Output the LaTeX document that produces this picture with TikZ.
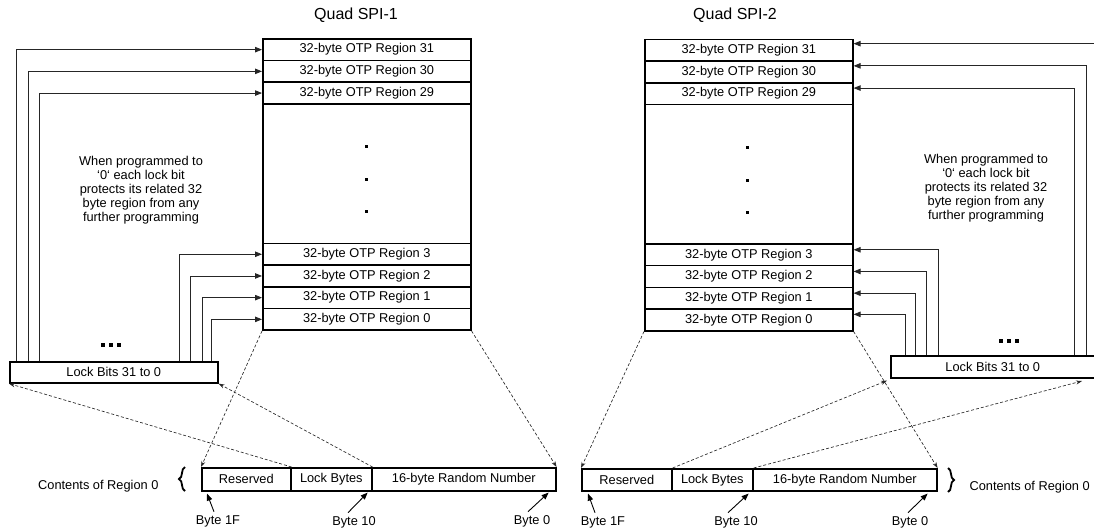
\documentclass[tikz,border=0pt]{standalone}
\usepackage{fontspec}
\setmainfont{Liberation Sans}
\usetikzlibrary{arrows.meta,decorations.pathreplacing,calc}
\begin{document}
\begin{tikzpicture}[x=1pt,y=-1pt,
  font=\fontsize{12.8}{14}\selectfont,
  box/.style={draw, line width=1.6pt, rectangle, inner sep=0pt, anchor=north west},
  row/.style={box, minimum width=208pt, minimum height=21.7pt},
  lk/.style={draw=black!85, line width=0.8pt, -{Triangle[length=7pt,width=5.5pt]}},
  dsh/.style={draw=black!85, line width=0.65pt, dash pattern=on 3pt off 2pt, -{Stealth[length=6pt,width=4pt]}},
  bytearr/.style={draw=black, line width=0.9pt, -{Triangle[length=7pt,width=5.5pt]}},
  dot/.style={fill=black, inner sep=0pt, minimum size=3pt, rectangle},
  brc/.style={decorate, decoration={brace, amplitude=6pt}, line width=1.8pt},
  title/.style={font=\fontsize{16}{18}\selectfont}
]
\clip (0,0) rectangle (1094,531);
\useasboundingbox (0,0) rectangle (1094,531);

% ---------- Left side ----------
\node[title] (T1) at (356,15) {Quad SPI-1};
\node[row] (L31) at (262,38) {32-byte OTP Region 31};
\node[row] (L30) at (262,59.7) {32-byte OTP Region 30};
\node[row] (L29) at (262,81.4) {32-byte OTP Region 29};
\node[row, minimum height=139.5pt] (Ld) at (262,103.1) {};
\node[row] (L3) at (262,242.6) {32-byte OTP Region 3};
\node[row] (L2) at (262,264.3) {32-byte OTP Region 2};
\node[row] (L1) at (262,286) {32-byte OTP Region 1};
\node[row] (L0) at (262,307.7) {32-byte OTP Region 0};
\node[dot] (Ld1) at (366,146) {};
\node[dot] (Ld2) at (366,179) {};
\node[dot] (Ld3) at (366,211) {};

\node[align=center] (Ltxt) at (141,190.5) {When programmed to\\‘0‘ each lock bit\\protects its related 32\\byte region from any\\further programming};

\node[box, minimum width=208pt, minimum height=21pt] (LLB) at (9,361) {Lock Bits 31 to 0};
\node[dot, minimum size=3.2pt] (Le1) at (103,345) {};
\node[dot, minimum size=3.2pt] (Le2) at (111,345) {};
\node[dot, minimum size=3.2pt] (Le3) at (119,345) {};

\draw[lk] ([xshift=7pt]LLB.north west) |- (L31.west);
\draw[lk] ([xshift=19pt]LLB.north west) |- (L30.west);
\draw[lk] ([xshift=30pt]LLB.north west) |- (L29.west);
\draw[lk] ([xshift=-39pt]LLB.north east) |- (L3.west);
\draw[lk] ([xshift=-28pt]LLB.north east) |- (L2.west);
\draw[lk] ([xshift=-16pt]LLB.north east) |- (L1.west);
\draw[lk] ([xshift=-7pt]LLB.north east) |- (L0.west);

\node[box, minimum width=89pt, minimum height=23pt] (LRes) at (201,467) {Reserved};
\node[box, minimum width=81pt, minimum height=23pt] (LLock) at (290,467) {Lock Bytes};
\node[box, minimum width=184pt, minimum height=23pt] (LRand) at (371,467) {16-byte Random Number};
\draw[brc] (185,491) -- (185,467);
\node[anchor=east] (LCont) at (162,486) {Contents of Region 0};

\node (LB1F) at (218,521) {Byte 1F};
\node (LB10) at (354,522) {Byte 10};
\node (LB0) at (532,521) {Byte 0};
\draw[bytearr] ([xshift=-4pt]LB1F.north) -- ([xshift=6pt,yshift=-2pt]LRes.south west);
\draw[bytearr] ([xshift=-6pt]LB10.north) -- ([xshift=-5pt,yshift=-1pt]LLock.south east);
\draw[bytearr] ([xshift=-4pt]LB0.north) -- ([xshift=-8pt,yshift=-1pt]LRand.south east);

\draw[dsh] (L0.south west) -- (LRes.north west);
\draw[dsh] (L0.south east) -- (LRand.north east);
\draw[dsh] (LRes.north east) -- (LLB.south west);
\draw[dsh] (LLock.north east) -- (LLB.south east);

% ---------- Right side ----------
\node[title] (T2) at (735,15) {Quad SPI-2};
\node[row] (R31) at (644,38.5) {32-byte OTP Region 31};
\node[row] (R30) at (644,60.2) {32-byte OTP Region 30};
\node[row] (R29) at (644,81.9) {32-byte OTP Region 29};
\node[row, minimum height=139.5pt] (Rd) at (644,103.6) {};
\node[row] (R3) at (644,243.1) {32-byte OTP Region 3};
\node[row] (R2) at (644,264.8) {32-byte OTP Region 2};
\node[row] (R1) at (644,286.5) {32-byte OTP Region 1};
\node[row] (R0) at (644,308.2) {32-byte OTP Region 0};
\node[dot] (Rd1) at (747,147) {};
\node[dot] (Rd2) at (747,180) {};
\node[dot] (Rd3) at (747,212) {};

\node[align=center] (Rtxt) at (986,188.5) {When programmed to\\‘0‘ each lock bit\\protects its related 32\\byte region from any\\further programming};

\node[box, minimum width=210pt, minimum height=22pt] (RLB) at (890,355) {\hspace*{-6pt}Lock Bits 31 to 0};
\node[dot, minimum size=3.2pt] (Re1) at (1001,341) {};
\node[dot, minimum size=3.2pt] (Re2) at (1009,341) {};
\node[dot, minimum size=3.2pt] (Re3) at (1017,341) {};

\draw[lk] ([xshift=-4pt]RLB.north east) |- ([yshift=6.5pt]R31.east);
\draw[lk] ([xshift=-15pt]RLB.north east) |- ([yshift=6pt]R30.east);
\draw[lk] ([xshift=-27pt]RLB.north east) |- ([yshift=5.5pt]R29.east);
\draw[lk] ([xshift=48pt]RLB.north west) |- ([yshift=5pt]R3.east);
\draw[lk] ([xshift=36pt]RLB.north west) |- ([yshift=5pt]R2.east);
\draw[lk] ([xshift=25pt]RLB.north west) |- ([yshift=5pt]R1.east);
\draw[lk] ([xshift=15pt]RLB.north west) |- ([yshift=5.5pt]R0.east);

\node[box, minimum width=90pt, minimum height=22pt] (RRes) at (581,468) {Reserved};
\node[box, minimum width=81pt, minimum height=22pt] (RLock) at (671,468) {Lock Bytes};
\node[box, minimum width=184pt, minimum height=22pt] (RRand) at (752,468) {16-byte Random Number};
\draw[brc] (948,468) -- (948,492);
\node[anchor=west] (RCont) at (966,487) {Contents of Region 0};

\node (RB1F) at (603,522) {Byte 1F};
\node (RB10) at (736,522) {Byte 10};
\node (RB0) at (910,522) {Byte 0};
\draw[bytearr] ([xshift=-8pt]RB1F.north) -- ([xshift=7pt,yshift=-2pt]RRes.south west);
\draw[bytearr] ([xshift=-8pt]RB10.north) -- ([xshift=-5pt,yshift=-2pt]RLock.south east);
\draw[bytearr] ([xshift=-2pt]RB0.north) -- ([xshift=-10pt,yshift=-2pt]RRand.south east);

\coordinate (RLBtip) at (1082,381);
\draw[dsh] (R0.south west) -- (RRes.north west);
\draw[dsh] (R0.south east) -- (RRand.north east);
\draw[dsh] (RRes.north east) -- ([xshift=-3pt,yshift=-2pt]RLB.south west);
\draw[dsh] (RLock.north east) -- (RLBtip);
\end{tikzpicture}
\end{document}
